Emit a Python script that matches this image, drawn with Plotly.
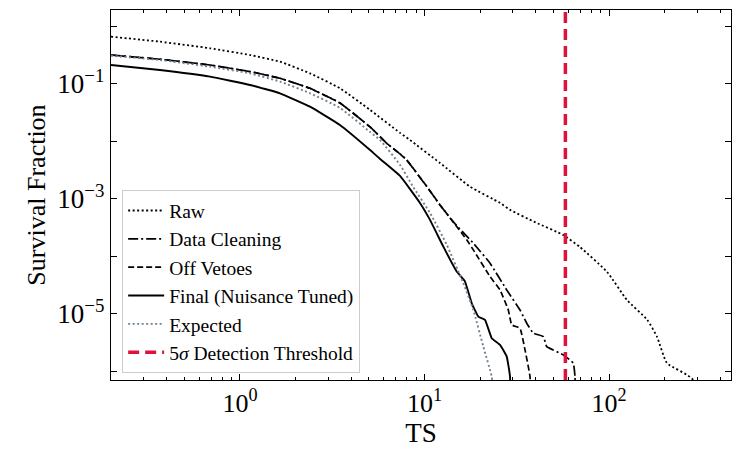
import plotly.graph_objects as go

# Survival fraction vs. test statistic at each analysis stage
ts_raw = [0.2, 0.368, 0.688, 1.133, 1.647, 2.395, 3.48, 5.07, 7.37, 8.34, 12.13, 17.65,
          25.7, 29.1, 40.0, 56.3, 69.5, 97.6, 125, 161, 182, 206, 285, 300]
sf_raw = [0.665, 0.544, 0.418, 0.319, 0.244, 0.153, 0.0841, 0.0353, 0.0141, 0.0106, 4.22e-3,
          1.64e-3, 8.5e-4, 6.46e-4, 3.9e-4, 2.37e-4, 1.46e-4, 5.37e-5, 1.75e-5, 7.9e-6,
          4.0e-6, 1.4e-6, 7.1e-7, 1e-8]

ts_clean = [0.2, 0.368, 0.688, 1.133, 1.647, 2.395, 3.48, 5.07, 6.24, 7.37, 8.01, 10.3,
            12.13, 14.27, 18.39, 22.65, 27.9, 32.93, 35.8, 38.9, 44.05, 45.95, 56.5, 64.05,
            65.4, 65.5]
sf_clean = [0.319, 0.269, 0.214, 0.164, 0.126, 0.0841, 0.0468, 0.0179, 9.3e-3, 6.07e-3,
            4.76e-3, 1.64e-3, 7.87e-4, 4.03e-4, 1.7e-4, 7.62e-5, 2.61e-5, 1.17e-5, 6.89e-6,
            4.61e-6, 4.03e-6, 2.7e-6, 1.94e-6, 1.39e-6, 8.1e-7, 1e-8]

ts_veto = [0.2, 0.368, 0.688, 1.133, 1.647, 2.395, 3.48, 5.07, 6.24, 7.37, 8.01, 10.3,
           12.13, 14.27, 16.93, 18.39, 22.65, 25.66, 28.46, 29.69, 32.93, 35.05, 37.3, 37.5]
sf_veto = [0.319, 0.269, 0.214, 0.164, 0.126, 0.0841, 0.0468, 0.0179, 9.3e-3, 6.07e-3,
           4.76e-3, 1.64e-3, 7.87e-4, 4.03e-4, 1.94e-4, 1.3e-4, 4.46e-5, 2.61e-5, 1.17e-5,
           6.44e-6, 5.64e-6, 2.37e-6, 8.1e-7, 1e-8]

ts_final = [0.2, 0.368, 0.688, 1.133, 1.647, 2.395, 3.48, 5.07, 5.74, 7.37, 9.45, 10.71,
            12.65, 14.95, 16.58, 18.03, 19.57, 21.28, 23.13, 25.66, 27.9, 29.07, 29.2]
sf_final = [0.214, 0.175, 0.134, 0.0961, 0.0689, 0.0403, 0.0194, 7.11e-3, 4.97e-3, 2.51e-3,
            8.5e-4, 4.32e-4, 1.48e-4, 5.45e-5, 3.65e-5, 1.53e-5, 8.98e-6, 7.87e-6, 3.78e-6,
            2.89e-6, 1.81e-6, 8.1e-7, 1e-8]

ts_expected = [0.2, 0.368, 0.688, 1.133, 1.647, 2.395, 3.48, 5.07, 5.74, 7.37, 8.66, 10.71,
               13.19, 16.23, 18.39, 20.83, 23.13, 24.0]
sf_expected = [0.31, 0.261, 0.2, 0.153, 0.11, 0.0689, 0.0383, 0.0146, 0.0106, 3.9e-3,
               1.64e-3, 5.71e-4, 1.6e-4, 3.42e-5, 1.17e-5, 2.7e-6, 8.1e-7, 3e-7]

threshold_ts = 58.0

# Axis limits (log10 units)
x_range = [-0.699, 2.661]
y_range = [-6.15, 0.287]

FONT = "Liberation Serif, Times New Roman, serif"


def curve(x, y, name, color, width, dash=None, smooth=0.5):
    return go.Scatter(x=x, y=y, mode="lines", name=name,
                      line=dict(color=color, width=width, dash=dash,
                                shape="spline", smoothing=smooth))


fig = go.Figure()
fig.add_trace(curve(ts_raw, sf_raw, "Raw", "black", 1.8, "2px,2.5px"))
fig.add_trace(curve(ts_clean, sf_clean, "Data Cleaning", "black", 1.7, "10px,3px,2px,3px", 0.3))
fig.add_trace(curve(ts_veto, sf_veto, "Off Vetoes", "black", 1.7, "6px,3px", 0.3))
fig.add_trace(curve(ts_final, sf_final, "Final (Nuisance Tuned)", "black", 1.9, None, 0.3))
fig.add_trace(curve(ts_expected, sf_expected, "Expected", "#708090", 1.9, "2px,2.5px"))
fig.add_trace(go.Scatter(x=[threshold_ts, threshold_ts],
                         y=[10 ** y_range[0], 10 ** y_range[1]],
                         mode="lines", name="5<i>σ</i> Detection Threshold",
                         line=dict(color="#DC143C", width=3.5, dash="11px,6px")))

# Decade ticks; only odd exponents labelled on y
y_exps = list(range(0, -7, -1))
y_vals = [10.0 ** e for e in y_exps]
y_text = [f"10<sup>−{-e}</sup>" if e % 2 else "" for e in y_exps]

x_exps = [0, 1, 2]
x_vals = [10.0 ** e for e in x_exps]
x_text = [f"10<sup>{e}</sup>" for e in x_exps]
x_minor = [m * 10.0 ** d for d in (-1, 0, 1, 2) for m in range(2, 10)]

axis_common = dict(type="log", showgrid=False, zeroline=False, showline=True,
                   linecolor="black", linewidth=1.3, mirror="allticks",
                   ticks="inside", ticklen=6, tickwidth=1.1, tickcolor="black")

fig.update_xaxes(**axis_common, range=x_range, tickmode="array",
                 tickvals=x_vals, ticktext=x_text,
                 tickfont=dict(family=FONT, size=26, color="black"),
                 minor=dict(tickmode="array", tickvals=x_minor, ticks="inside",
                            ticklen=3, tickwidth=0.9, tickcolor="black"),
                 title=dict(text="TS", font=dict(family=FONT, size=27, color="black"),
                            standoff=2))
fig.update_yaxes(**axis_common, range=y_range, tickmode="array",
                 tickvals=y_vals, ticktext=y_text,
                 tickfont=dict(family=FONT, size=27, color="black"),
                 title=dict(text="Survival Fraction",
                            font=dict(family=FONT, size=26, color="black"), standoff=4))

fig.update_layout(
    width=732, height=449,
    margin=dict(l=111, r=1, t=10, b=69),
    paper_bgcolor="white", plot_bgcolor="white",
    showlegend=True,
    legend=dict(x=0.018, y=0.018, xanchor="left", yanchor="bottom",
                bgcolor="rgba(255,255,255,0.85)", bordercolor="#cccccc", borderwidth=1,
                font=dict(family=FONT, size=19.5, color="black"),
                itemwidth=36, tracegroupgap=0),
)

fig.write_html("out.html")
